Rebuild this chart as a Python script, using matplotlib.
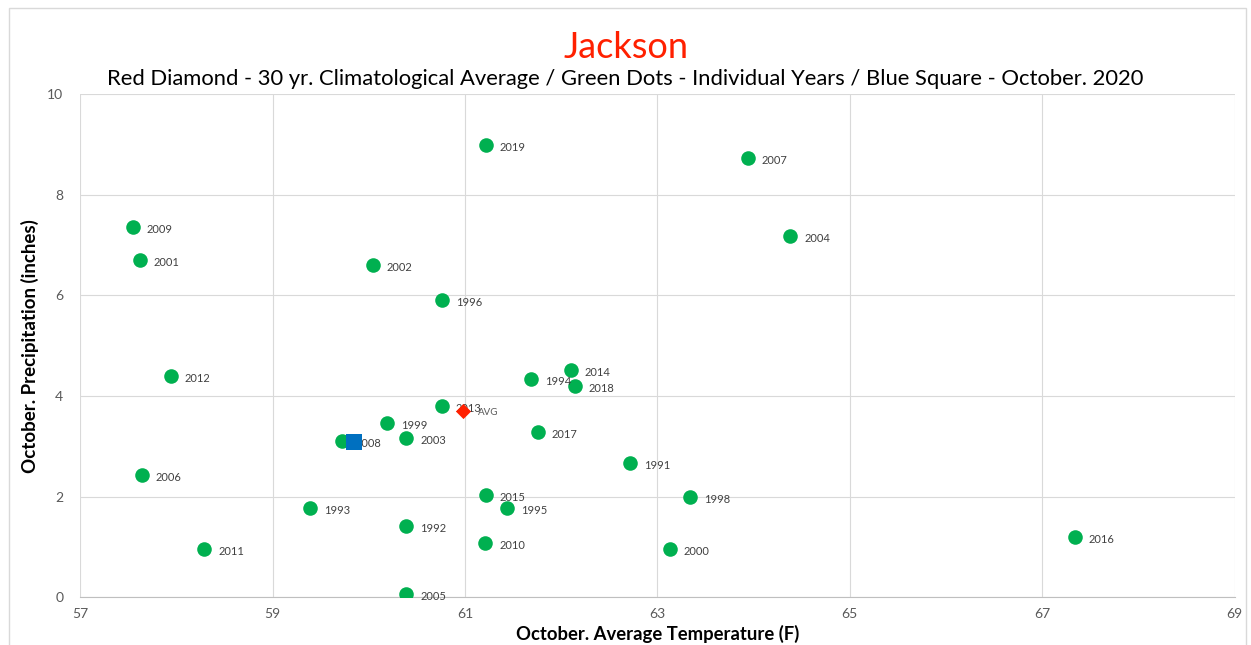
import matplotlib.pyplot as plt
from matplotlib.patches import Rectangle

plt.rcParams['font.family'] = ['Lato', 'DejaVu Sans']

# individual years (October avg temp F, precip inches)
years = ['2019', '2007', '2004', '2009', '2001', '2002', '1996', '2012', '2014', '1994',
         '2018', '2013', '1999', '2017', '2008', '2003', '1991', '2006', '2015', '1998',
         '1993', '1995', '1992', '2010', '2011', '2000', '2016', '2005']
temps = [61.22, 63.94, 64.38, 57.55, 57.62, 60.04, 60.76, 57.94, 62.10, 61.69,
         62.14, 60.76, 60.19, 61.76, 59.72, 60.39, 62.72, 57.64, 61.22, 63.34,
         59.39, 61.44, 60.39, 61.21, 58.29, 63.13, 67.34, 60.39]
precip = [8.99, 8.73, 7.18, 7.36, 6.70, 6.60, 5.90, 4.39, 4.51, 4.33,
          4.19, 3.80, 3.46, 3.28, 3.10, 3.16, 2.66, 2.43, 2.03, 1.99,
          1.77, 1.77, 1.41, 1.07, 0.95, 0.95, 1.19, 0.06]

avg_temp, avg_precip = 60.98, 3.70
cur_temp, cur_precip = 59.85, 3.08

fig = plt.figure(figsize=(12.51, 6.45), dpi=100)
ax = fig.add_axes([0.064, 0.074, 0.923, 0.78])

ax.scatter(temps, precip, s=110, color='#00B050', zorder=3, linewidths=0)
for t, p, yr in zip(temps, precip, years):
    ax.annotate(yr, (t, p), xytext=(10, -4), textcoords='offset points',
                fontsize=8, color='#404040', zorder=4)

ax.scatter([cur_temp], [cur_precip], s=120, marker='s', color='#0070C0', zorder=4, linewidths=0)
ax.scatter([avg_temp], [avg_precip], s=60, marker='D', color='#FF2000', zorder=4, linewidths=0)
ax.annotate('AVG', (avg_temp, avg_precip), xytext=(11, -3), textcoords='offset points',
            fontsize=7, color='#595959', zorder=4)

ax.set_xlim(57, 69)
ax.set_ylim(0, 10)
ax.set_xticks(range(57, 70, 2))
ax.set_yticks(range(0, 11, 2))
ax.grid(True, color='#d9d9d9', linewidth=0.8)
ax.set_axisbelow(True)
for s in ['top', 'right', 'left']:
    ax.spines[s].set_visible(False)
ax.spines['bottom'].set_color('#bfbfbf')
ax.tick_params(length=0, colors='#595959', labelsize=10, pad=8)
ax.tick_params(axis='y', pad=12)

ax.set_xlabel('October. Average Temperature (F)', fontsize=13.3, fontweight='bold', labelpad=3)
ax.set_ylabel('October. Precipitation (inches)', fontsize=13.5, fontweight='bold', labelpad=6)

fig.text(0.5, 0.927, 'Jackson', ha='center', va='center', fontsize=26, color='#FF2000')
fig.text(0.5, 0.878, 'Red Diamond - 30 yr. Climatological Average / Green Dots - Individual Years / Blue Square - October. 2020',
         ha='center', va='center', fontsize=15.8, color='black')

fig.patches.append(Rectangle((0.007, -0.02), 0.989, 1.007, transform=fig.transFigure,
                             fill=False, edgecolor='#d9d9d9', linewidth=1))

fig.savefig('out.png', dpi=100)
